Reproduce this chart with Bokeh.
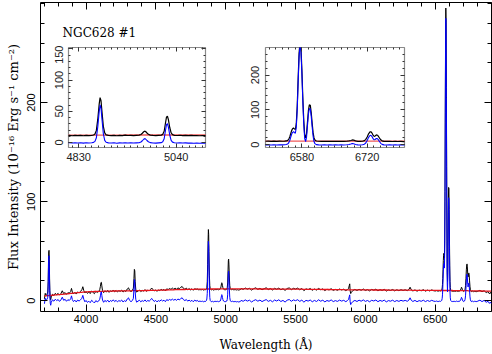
from bokeh.plotting import figure
from bokeh.models import Range1d, LinearAxis, FixedTicker, Label, GridBox, ColumnDataSource
from bokeh.embed import file_html
from bokeh.resources import INLINE

# ---------------- data ----------------
wave = [
    3702, 3708, 3714, 3720, 3726, 3729, 3731, 3733, 3735, 3737,
    3739, 3741, 3744, 3747, 3751, 3760, 3770, 3780, 3790, 3800,
    3810, 3820, 3830, 3840, 3850, 3860, 3870, 3880, 3890, 3896,
    3902, 3910, 3920, 3930, 3940, 3950, 3960, 3970, 3977, 3984,
    3992, 4000, 4010, 4020, 4030, 4040, 4050, 4060, 4070, 4080,
    4090, 4098, 4103, 4107, 4110, 4113, 4118, 4126, 4135, 4145,
    4155, 4165, 4175, 4185, 4195, 4205, 4215, 4225, 4235, 4245,
    4255, 4265, 4275, 4285, 4295, 4304, 4312, 4322, 4332, 4339,
    4343, 4346, 4349, 4352, 4356, 4362, 4372, 4382, 4392, 4402,
    4412, 4422, 4432, 4442, 4452, 4462, 4470, 4478, 4488, 4498,
    4508, 4518, 4528, 4538, 4548, 4558, 4568, 4578, 4588, 4598,
    4608, 4618, 4628, 4638, 4648, 4658, 4668, 4678, 4688, 4698,
    4708, 4718, 4728, 4738, 4748, 4758, 4768, 4778, 4788, 4798,
    4804, 4810, 4816, 4822, 4828, 4834, 4840, 4846, 4852, 4858,
    4862, 4865, 4868, 4871, 4874, 4876, 4878, 4880, 4883, 4886,
    4889, 4894, 4900, 4906, 4912, 4918, 4924, 4930, 4936, 4942,
    4948, 4954, 4960, 4964, 4967, 4970, 4972, 4974, 4977, 4980,
    4984, 4990, 4996, 5002, 5008, 5011, 5014, 5017, 5019, 5021,
    5023, 5026, 5029, 5032, 5036, 5042, 5048, 5054, 5060, 5066,
    5072, 5078, 5084, 5090, 5096, 5102, 5110, 5125, 5140, 5155,
    5170, 5185, 5200, 5215, 5230, 5245, 5260, 5275, 5290, 5305,
    5320, 5335, 5350, 5365, 5380, 5395, 5410, 5425, 5440, 5455,
    5470, 5485, 5500, 5515, 5530, 5545, 5560, 5575, 5590, 5605,
    5620, 5635, 5650, 5665, 5680, 5695, 5710, 5725, 5740, 5755,
    5770, 5785, 5800, 5815, 5830, 5845, 5860, 5872, 5880, 5885,
    5888, 5891, 5895, 5900, 5910, 5925, 5940, 5955, 5970, 5985,
    6000, 6015, 6030, 6045, 6060, 6075, 6090, 6105, 6120, 6135,
    6150, 6165, 6180, 6195, 6210, 6225, 6240, 6255, 6270, 6285,
    6300, 6312, 6320, 6328, 6340, 6355, 6370, 6385, 6400, 6415,
    6430, 6445, 6460, 6475, 6490, 6502, 6508, 6514, 6520, 6526,
    6532, 6538, 6543, 6547, 6550, 6552, 6554, 6556, 6558, 6560,
    6562, 6564, 6566, 6568, 6570, 6572, 6574, 6576, 6578, 6580,
    6582, 6584, 6586, 6588, 6590, 6592, 6594, 6596, 6598, 6600,
    6602, 6604, 6606, 6608, 6611, 6616, 6622, 6628, 6634, 6640,
    6646, 6652, 6658, 6664, 6670, 6676, 6681, 6685, 6688, 6691,
    6695, 6700, 6705, 6710, 6714, 6717, 6720, 6723, 6726, 6728,
    6730, 6733, 6735, 6737, 6739, 6741, 6743, 6746, 6749, 6752,
    6756, 6762, 6768, 6774, 6780, 6786, 6792, 6798, 6805, 6820,
    6835, 6850, 6865, 6878, 6888, 6896, 6902,
]

# fitted continuum (red line)
cont = [
    5.0, 5.0, 5.1, 5.2, 5.3, 5.3, 5.3, 5.3, 5.4, 5.4,
    5.4, 5.4, 5.5, 5.5, 5.5, 5.6, 5.7, 5.9, 6.0, 6.2,
    6.3, 6.4, 6.5, 6.7, 6.8, 7.0, 7.1, 7.3, 7.4, 7.5,
    7.6, 7.7, 7.9, 8.0, 8.2, 8.3, 8.5, 8.6, 8.7, 8.8,
    8.9, 9.0, 9.1, 9.2, 9.2, 9.3, 9.3, 9.4, 9.4, 9.5,
    9.5, 9.6, 9.6, 9.6, 9.6, 9.6, 9.6, 9.7, 9.7, 9.7,
    9.8, 9.8, 9.8, 9.8, 9.9, 9.9, 9.9, 10.0, 10.0, 10.0,
    10.0, 10.0, 10.1, 10.1, 10.1, 10.1, 10.1, 10.1, 10.2, 10.2,
    10.2, 10.2, 10.2, 10.2, 10.2, 10.2, 10.2, 10.3, 10.3, 10.3,
    10.3, 10.4, 10.4, 10.4, 10.5, 10.5, 10.5, 10.5, 10.6, 10.6,
    10.6, 10.7, 10.7, 10.7, 10.8, 10.8, 10.9, 10.9, 11.0, 11.0,
    11.0, 11.1, 11.1, 11.2, 11.2, 11.2, 11.3, 11.3, 11.4, 11.4,
    11.4, 11.5, 11.5, 11.5, 11.6, 11.6, 11.6, 11.6, 11.7, 11.7,
    11.7, 11.7, 11.7, 11.7, 11.8, 11.8, 11.8, 11.8, 11.8, 11.8,
    11.8, 11.8, 11.8, 11.9, 11.9, 11.9, 11.9, 11.9, 11.9, 11.9,
    11.9, 11.9, 11.9, 11.9, 11.9, 11.9, 11.9, 12.0, 12.0, 12.0,
    12.0, 12.0, 12.0, 12.0, 12.0, 12.0, 12.0, 12.0, 12.0, 12.0,
    12.0, 12.0, 12.0, 12.0, 12.0, 12.0, 12.0, 12.0, 12.0, 12.0,
    12.0, 12.0, 12.0, 12.0, 12.0, 12.0, 12.0, 12.0, 12.0, 12.0,
    12.0, 12.0, 12.0, 12.0, 12.0, 12.0, 12.0, 12.0, 12.0, 12.0,
    12.0, 12.0, 12.0, 12.0, 11.9, 11.9, 11.9, 11.9, 11.9, 11.9,
    11.9, 11.9, 11.8, 11.8, 11.8, 11.8, 11.8, 11.8, 11.8, 11.7,
    11.7, 11.7, 11.7, 11.7, 11.7, 11.7, 11.6, 11.6, 11.6, 11.6,
    11.6, 11.5, 11.5, 11.5, 11.5, 11.4, 11.4, 11.4, 11.4, 11.3,
    11.3, 11.3, 11.2, 11.2, 11.2, 11.2, 11.1, 11.1, 11.1, 11.1,
    11.1, 11.1, 11.1, 11.1, 11.1, 11.1, 11.1, 11.0, 11.0, 11.0,
    11.0, 11.0, 11.0, 11.0, 10.9, 10.9, 10.9, 10.9, 10.9, 10.9,
    10.9, 10.8, 10.8, 10.8, 10.8, 10.8, 10.8, 10.7, 10.7, 10.7,
    10.7, 10.7, 10.7, 10.7, 10.6, 10.6, 10.6, 10.6, 10.6, 10.6,
    10.5, 10.5, 10.5, 10.5, 10.5, 10.5, 10.5, 10.5, 10.5, 10.5,
    10.5, 10.5, 10.4, 10.4, 10.4, 10.4, 10.4, 10.4, 10.4, 10.4,
    10.4, 10.4, 10.4, 10.4, 10.4, 10.4, 10.4, 10.4, 10.4, 10.4,
    10.4, 10.4, 10.4, 10.4, 10.4, 10.4, 10.4, 10.4, 10.4, 10.4,
    10.4, 10.4, 10.4, 10.4, 10.4, 10.4, 10.4, 10.3, 10.3, 10.3,
    10.3, 10.3, 10.3, 10.3, 10.3, 10.2, 10.2, 10.2, 10.2, 10.2,
    10.2, 10.2, 10.2, 10.2, 10.2, 10.2, 10.2, 10.2, 10.2, 10.2,
    10.2, 10.2, 10.1, 10.1, 10.1, 10.1, 10.1, 10.1, 10.1, 10.1,
    10.1, 10.1, 10.1, 10.1, 10.0, 10.0, 10.0, 10.0, 10.0, 9.9,
    9.9, 9.8, 9.8, 9.8, 9.7, 9.7, 9.7,
]

# emission / residual spectrum (blue line)
resid = [
    -3.0, 2.5, 0.4, 1.2, 3.5, 14.0, 32.0, 44.0, 45.5, 36.0,
    17.0, 5.0, -2.5, -4.5, -1.5, 1.0, -0.4, 1.6, 0.2, 1.3,
    -0.6, 0.9, 3.6, 0.5, 1.5, -0.5, 1.1, 0.3, 2.0, 5.0,
    1.2, -0.8, 0.6, -1.2, 0.8, -0.3, 0.9, 2.5, 5.5, 1.5,
    -1.0, 0.3, -1.6, -0.4, -1.9, 0.5, -0.8, -2.2, 0.2, -1.0,
    -0.3, 1.5, 5.0, 8.8, 9.0, 5.5, 0.8, -1.5, 0.4, -0.9,
    0.7, -1.3, 0.3, -0.6, 1.0, -0.8, 0.5, -1.1, 0.2, -0.5,
    0.8, -1.2, 0.1, -0.7, 1.8, 3.0, 0.4, -0.9, 0.3, 2.5,
    12.0, 21.5, 20.0, 9.0, 1.5, -1.4, -0.4, 0.6, -1.0, 0.2,
    -0.6, 0.9, -0.8, 0.3, -0.4, 0.9, 2.4, 1.0, -0.7, 0.4,
    -1.1, 0.2, -0.5, 1.0, -0.2, 0.6, -0.9, 1.2, 0.3, 1.4,
    0.5, 1.7, 0.6, 1.5, 0.4, 1.9, 0.8, 2.3, 3.0, 1.1,
    0.2, 1.3, -0.4, 0.8, -0.6, 0.5, -1.0, 0.7, -0.3, 0.4,
    -0.8, -0.2, -0.9, -0.3, -0.7, -0.4, -1.0, -0.5, -0.8, -0.4,
    0.2, 1.8, 7.5, 25.0, 49.0, 60.0, 55.0, 38.0, 14.0, 3.5,
    0.4, -0.6, -0.9, -0.5, -1.1, -0.6, -0.9, -0.3, -0.8, -0.5,
    -0.9, -0.6, -0.3, 0.8, 2.8, 5.2, 6.2, 5.6, 3.2, 1.2,
    -0.2, -0.7, -1.0, -0.6, -0.2, 1.2, 6.0, 20.0, 28.5, 30.0,
    25.0, 12.0, 3.5, 0.6, -0.5, -0.8, -0.4, -0.9, -0.6, -1.0,
    -0.7, -1.1, -0.8, -1.2, -0.9, -1.1, 0.4, -0.5, 0.9, -0.3,
    0.6, -1.2, 0.2, 1.1, -0.4, 0.7, -0.8, 0.3, 1.2, -0.6,
    0.5, -1.0, 0.8, -0.2, 1.0, -0.7, 0.4, -1.3, 0.6, 1.3,
    -0.5, 0.9, 0.1, 1.1, -0.6, 0.7, -1.4, 0.5, -0.3, 0.8,
    -1.0, 0.4, -0.7, 1.0, -0.4, 0.6, -1.1, 0.3, -0.5, 0.9,
    -0.8, 0.2, -0.6, 0.7, -0.3, 0.5, -0.9, 0.3, 1.5, 4.5,
    6.0, -1.0, -3.8, -2.5, -0.8, 0.4, -0.7, 0.6, -0.4, 0.9,
    -0.6, 0.3, -1.0, 0.5, -0.2, 0.8, -0.9, 0.4, -0.5, 0.7,
    -1.1, 0.2, -0.4, 0.6, -0.8, 0.3, -0.6, 0.5, -0.3, 0.4,
    -0.5, 0.8, 3.0, 0.6, -0.7, 0.4, -0.9, 0.2, -0.5, 0.6,
    -0.8, 0.3, -0.6, 0.5, -0.4, -0.6, -0.2, -0.7, -0.4, -0.8,
    -0.3, -0.6, -0.2, 0.5, 2.5, 6.0, 12.0, 21.0, 30.0, 35.5,
    37.5, 35.0, 33.0, 50.0, 100.0, 180.0, 252.0, 285.0, 270.0, 205.0,
    125.0, 60.0, 18.0, 9.0, 22.0, 55.0, 88.0, 104.0, 103.0, 82.0,
    52.0, 25.0, 9.0, 3.0, 0.2, -0.5, -0.8, -0.4, -0.9, -0.5,
    -0.8, -0.3, -0.7, -0.4, -0.8, -0.3, 0.6, 2.0, 3.5, 2.8,
    0.8, -0.5, -0.8, -0.2, 1.5, 5.0, 12.0, 21.0, 26.5, 27.0,
    24.0, 16.5, 14.0, 15.0, 17.5, 18.0, 16.0, 10.0, 4.0, 1.0,
    -0.4, -0.8, -0.3, -0.9, -0.5, -0.8, -0.4, -0.9, -0.3, 0.6,
    -0.8, 0.4, -1.5, -0.5, -2.6, -1.2, -3.0,
]

# observed spectrum (black) = continuum + residual
observed = [c + r for c, r in zip(cont, resid)]

main_xticks = [4000, 4500, 5000, 5500, 6000, 6500]
main_xminor = list(range(3700, 6901, 100))
main_yticks = [0, 100, 200]
main_yminor = list(range(0, 301, 20))

in1_xticks = [4830, 5040]
in1_xminor = [4816, 4830, 4844, 4858, 4872, 4886, 4900, 4914, 4928, 4942, 4956, 4970,
              4984, 4998, 5012, 5026, 5040, 5054, 5068, 5082, 5096]
in1_yticks = [0, 50, 100, 150]
in1_yminor = list(range(0, 151, 10))

in2_xticks = [6580, 6720]
in2_xminor = [6510, 6524, 6538, 6552, 6566, 6580, 6594, 6608, 6622, 6636, 6650, 6664,
              6678, 6692, 6706, 6720, 6734, 6748, 6762, 6776, 6790]
in2_yticks = [0, 100, 200]
in2_yminor = list(range(0, 281, 20))

title_text = "NGC628 #1"
xlabel = "Wavelength (Å)"
ylabel = "Flux Intensity (10⁻¹⁶ Erg s⁻¹ cm⁻²)"

TICK_FONT = "Liberation Sans"
TEXT_FONT = "DejaVu Serif"

src = ColumnDataSource(data=dict(wave=wave, obs=observed, cont=cont, resid=resid))


def style_axis(ax, major_len, minor_len, color, show_labels, standoff, label_color="black"):
    ax.axis_line_color = None
    ax.major_tick_in = major_len
    ax.major_tick_out = 0
    ax.minor_tick_in = minor_len
    ax.minor_tick_out = 0
    ax.major_tick_line_color = color
    ax.minor_tick_line_color = color
    ax.major_tick_line_width = 1
    ax.minor_tick_line_width = 1
    if show_labels:
        ax.major_label_text_font = TICK_FONT
        ax.major_label_text_font_size = "11px"
        ax.major_label_text_color = label_color
        ax.major_label_standoff = standoff
    else:
        ax.major_label_text_color = None
        ax.major_label_text_font_size = "1px"
        ax.major_label_standoff = 0


# ---------------- main panel ----------------
p = figure(width=492, height=354, output_backend="svg", toolbar_location=None,
           x_range=Range1d(3674, 6903), y_range=Range1d(-10.8, 301),
           min_border_left=40, min_border_right=1, min_border_top=2, min_border_bottom=42)
p.grid.visible = False
p.outline_line_color = "black"
p.outline_line_width = 1
p.background_fill_color = "white"
p.border_fill_color = "white"

xt = FixedTicker(ticks=main_xticks, minor_ticks=main_xminor)
yt = FixedTicker(ticks=main_yticks, minor_ticks=main_yminor)
p.xaxis[0].ticker = xt
p.yaxis[0].ticker = yt
style_axis(p.xaxis[0], 7, 4, "black", True, 3)
style_axis(p.yaxis[0], 7, 4, "black", True, 5)
p.yaxis[0].major_label_orientation = "vertical"
p.xaxis[0].axis_label = xlabel
p.yaxis[0].axis_label = ylabel
for ax in (p.xaxis[0], p.yaxis[0]):
    ax.axis_label_text_font = TEXT_FONT
    ax.axis_label_text_font_style = "normal"
    ax.axis_label_text_color = "black"
p.xaxis[0].axis_label_text_font_size = "12px"
p.yaxis[0].axis_label_text_font_size = "13px"
p.xaxis[0].axis_label_standoff = 12
p.yaxis[0].axis_label_standoff = 4

ax_top = LinearAxis(ticker=xt)
style_axis(ax_top, 7, 4, "black", False, 0)
p.add_layout(ax_top, "above")
ax_right = LinearAxis(ticker=yt)
style_axis(ax_right, 7, 4, "black", False, 0)
p.add_layout(ax_right, "right")

p.line("wave", "obs", source=src, line_color="black", line_width=1)
p.line("wave", "cont", source=src, line_color="#e8141c", line_width=1.3)
p.line("wave", "resid", source=src, line_color="#0000ff", line_width=1)

p.add_layout(Label(x=3832, y=270, text=title_text, text_font=TEXT_FONT,
                   text_font_size="12px", text_color="black", text_baseline="alphabetic"))


# ---------------- insets ----------------
def make_inset(width, xr, yr, xticks, xminor, yticks, yminor):
    q = figure(width=width, height=122, output_backend="svg", toolbar_location=None,
               x_range=Range1d(*xr), y_range=Range1d(*yr),
               min_border_left=20, min_border_right=2, min_border_top=2, min_border_bottom=20)
    q.grid.visible = False
    q.outline_line_color = "#8a8a8a"
    q.outline_line_width = 1.2
    q.background_fill_color = "white"
    q.border_fill_color = None
    xt_ = FixedTicker(ticks=xticks, minor_ticks=xminor)
    yt_ = FixedTicker(ticks=yticks, minor_ticks=yminor)
    q.xaxis[0].ticker = xt_
    q.yaxis[0].ticker = yt_
    style_axis(q.xaxis[0], 4, 2, "#333333", True, 5, "#222222")
    style_axis(q.yaxis[0], 4, 2, "#333333", True, 6, "#222222")
    q.yaxis[0].major_label_orientation = "vertical"
    a1 = LinearAxis(ticker=xt_)
    style_axis(a1, 4, 2, "#333333", False, 0)
    q.add_layout(a1, "above")
    a2 = LinearAxis(ticker=yt_)
    style_axis(a2, 4, 2, "#333333", False, 0)
    q.add_layout(a2, "right")
    q.line("wave", "cont", source=src, line_color="#f05a5a", line_width=1.3)
    q.line("wave", "obs", source=src, line_color="black", line_width=1.2)
    q.line("wave", "resid", source=src, line_color="#0000ff", line_width=1.1)
    return q


ins1 = make_inset(159, (4808, 5103), (-8, 152), in1_xticks, in1_xminor, in1_yticks, in1_yminor)
ins2 = make_inset(161, (6502, 6800), (-8, 279), in2_xticks, in2_xminor, in2_yticks, in2_yminor)

layout = GridBox(children=[(p, 0, 0, 3, 5), (ins1, 1, 1), (ins2, 1, 3)],
                 rows=["45px", "122px", "187px"],
                 cols=["48px", "159px", "38px", "161px", "86px"],
                 spacing=0)

open("out.html", "w").write(file_html(layout, INLINE))
